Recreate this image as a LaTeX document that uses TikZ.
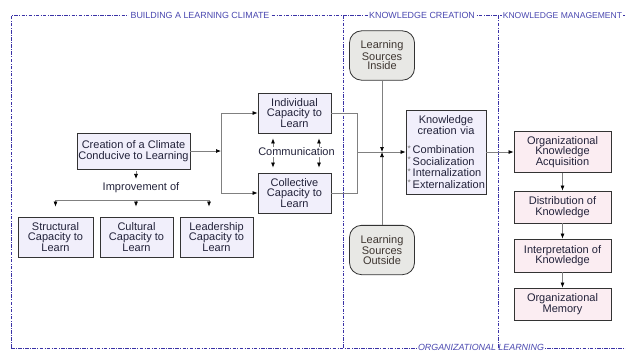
\documentclass[tikz,border=0pt]{standalone}
\usepackage{fontspec}
\setmainfont{Liberation Sans}
\usetikzlibrary{arrows.meta}

\definecolor{framecol}{HTML}{3A32A6}
\definecolor{labelcol}{HTML}{4A48B0}
\definecolor{climfill}{HTML}{F1EFFB}
\definecolor{kmfill}{HTML}{FBEDF2}
\definecolor{srcfill}{HTML}{E8E8E5}
\definecolor{boxtext}{HTML}{22223A}
\definecolor{srctext}{HTML}{3E3631}

\begin{document}
\begin{tikzpicture}[x=0.3mm, y=-0.3mm,
  box/.style={draw=black!80, line width=0.7pt, fill=climfill, text=boxtext,
    font=\fontsize{9.4}{8.8}\selectfont, align=center, inner sep=1pt},
  climbox/.style={box, minimum width=21.9mm, minimum height=12mm},
  kmbox/.style={box, fill=kmfill, minimum width=29.1mm},
  srcbox/.style={box, fill=srcfill, text=srctext, rounded corners=3.6mm,
    font=\fontsize{9.4}{8.4}\selectfont, minimum width=19.5mm, minimum height=14.8mm},
  plain/.style={text=boxtext, font=\fontsize{9.4}{8.8}\selectfont, inner sep=1pt},
  link/.style={draw=black!50, line width=0.6pt},
  linkarrow/.style={link, -{Latex[length=1.5mm,width=1.2mm,color=black]}},
  frame/.style={draw=framecol, line width=0.5pt,
    dash pattern=on 3pt off 1.2pt on 0.7pt off 1.2pt},
  framelabel/.style={fill=white, text=labelcol, inner sep=1pt,
    font=\fontsize{7.6}{8}\selectfont}]

  \useasboundingbox (0,0) rectangle (626,351);
  \clip (0,0) rectangle (626,351);

  % frames around the three parts
  \draw[frame] (11,348) -- (11,15.5) -- (626,15.5);
  \draw[frame] (11,348) -- (626,348);
  \node[framelabel] (lbuild) at (200,15.5) {BUILDING A LEARNING CLIMATE};
  \node[framelabel] (lcreate) at (422,15.5) {KNOWLEDGE CREATION};
  \node[framelabel, anchor=west, inner sep=0.5pt, font=\fontsize{7.3}{8}\selectfont] (lmanage) at (502,15.5) {KNOWLEDGE MANAGEMENT};
  \node[framelabel, font=\fontsize{7.6}{8}\selectfont\itshape] (lorg) at (481,347.5) {ORGANIZATIONAL LEARNING};
  \draw[frame] (343,15.5) -- (343,348);
  \draw[frame] (498,15.5) -- (498,348);

  % learning climate
  \node[box, minimum width=33.9mm, minimum height=10.8mm] (climate) at (133.5,151) {Creation of a Climate\\Conducive to Learning};
  \node[plain] (improve) at (141,187.5) {Improvement of};
  \node[climbox, minimum width=22.5mm] (struct) at (55.5,237) {Structural\\Capacity to\\Learn};
  \node[climbox] (cult) at (136.5,237) {Cultural\\Capacity to\\Learn};
  \node[climbox] (lead) at (216.5,237) {Leadership\\Capacity to\\Learn};
  \node[climbox] (indiv) at (294.5,113) {Individual\\Capacity to\\Learn};
  \node[climbox] (coll) at (294.5,193) {Collective\\Capacity to\\Learn};
  \node[plain] (comm) at (296.5,152) {Communication};

  % knowledge creation
  \node[srcbox] (lsin) at (382,55.5) {Learning\\Sources\\Inside};
  \node[srcbox] (lsout) at (382,250) {Learning\\Sources\\Outside};
  \node[box, text width=23mm, minimum height=25.2mm, inner sep=0.5mm, align=left,
    font=\fontsize{9.4}{9.8}\selectfont] (kcv) at (446,152)
    {{\centering Knowledge\\[-1pt]creation via\par}\vspace{2.4mm}%
     \raisebox{0.4ex}{\color{black!55}\fontsize{7}{7}\selectfont*}\,Combination\\
     \raisebox{0.4ex}{\color{black!55}\fontsize{7}{7}\selectfont*}\,Socialization\\
     \raisebox{0.4ex}{\color{black!55}\fontsize{7}{7}\selectfont*}\,Internalization\\
     \raisebox{0.4ex}{\color{black!55}\fontsize{7}{7}\selectfont*}\,Externalization};

  % knowledge management
  \node[kmbox, minimum height=12.3mm] (acq) at (562.5,152) {Organizational\\Knowledge\\Acquisition};
  \node[kmbox, minimum height=9.6mm] (dist) at (562.5,207) {Distribution of\\Knowledge};
  \node[kmbox, minimum height=9.9mm] (interp) at (562.5,255.5) {Interpretation of\\Knowledge};
  \node[kmbox, minimum height=9.6mm] (memory) at (562.5,304) {Organizational\\Memory};

  % connectors
  \coordinate (split) at (221,151);
  \coordinate (merge) at (357,152);
  \coordinate (hit) at (382,152);
  \coordinate (fan) at (136,200);
  \coordinate (fanend) at (209,200);
  \coordinate (cl) at (273,0);
  \coordinate (cr) at (319,0);

  \draw[linkarrow] (climate) -- (split);
  \draw[linkarrow] (split) |- (indiv);
  \draw[linkarrow] (split) |- (coll);

  \draw[linkarrow, shorten <=0.6mm, shorten >=0.6mm] (climate.south -| fan) -- (improve.north -| fan);
  \draw[link] (struct.north |- fan) -- (fanend);
  \draw[linkarrow, shorten >=3mm] (struct.north |- fan) -- (struct.north);
  \draw[linkarrow, shorten >=3mm] (fan) -- (cult.north -| fan);
  \draw[linkarrow, shorten >=3mm] (fanend) -- (lead.north -| fanend);

  \draw[linkarrow, shorten >=1.5mm] (comm.north -| cl) -- (indiv.south -| cl);
  \draw[linkarrow, shorten >=1.5mm] (comm.north -| cr) -- (indiv.south -| cr);
  \draw[linkarrow, shorten >=1.5mm] (comm.south -| cl) -- (coll.north -| cl);
  \draw[linkarrow, shorten >=1.5mm] (comm.south -| cr) -- (coll.north -| cr);

  \draw[link] (indiv) -| (merge);
  \draw[link] (coll) -| (merge);
  \draw[linkarrow] (merge) -- (kcv);
  \draw[linkarrow] (lsin) -- (hit);
  \draw[linkarrow] (lsout) -- (hit);

  \draw[linkarrow] (kcv) -- (acq);
  \draw[linkarrow] (acq) -- (dist);
  \draw[linkarrow] (dist) -- (interp);
  \draw[linkarrow] (interp) -- (memory);
\end{tikzpicture}
\end{document}
